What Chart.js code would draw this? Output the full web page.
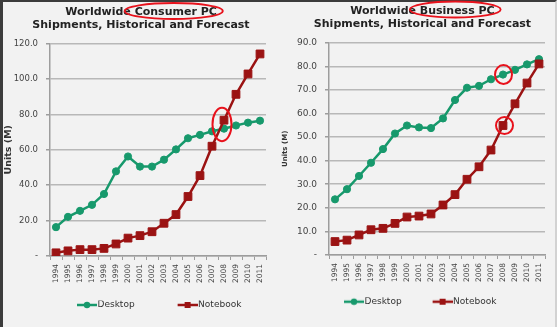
<!DOCTYPE html>
<html>
<head>
<meta charset="utf-8">
<script src="https://cdn.jsdelivr.net/npm/chart.js@4"></script>
<style>
    html, body { margin: 0; padding: 0; }
    body { width: 557px; height: 327px; background: #f2f2f2; position: relative; overflow: hidden; }
    #frame { position: absolute; left: 0; top: 0; width: 557px; height: 327px; box-sizing: border-box;
             border-left: 3px solid #3c3c3c; border-top: 2px solid #3c3c3c; border-right: 2px solid #d2d2d2; }
    .box { position: absolute; top: 0; }
    #left { left: 0; }
    #right { left: 277px; }
</style>
</head>
<body>
<div id="frame"></div>
<div class="box" id="left"><canvas id="consumer" width="277" height="327"></canvas></div>
<div class="box" id="right"><canvas id="business" width="280" height="327"></canvas></div>
<script>

const years = ['1994', '1995', '1996', '1997', '1998', '1999', '2000', '2001', '2002',
               '2003', '2004', '2005', '2006', '2007', '2008', '2009', '2010', '2011'];

const consumerDesktop  = [16.3, 22.1, 25.5, 28.9, 35.0, 47.8, 56.2, 50.5, 50.5,
                          54.4, 60.2, 66.5, 68.4, 70.4, 71.9, 73.7, 75.3, 76.4];
const consumerNotebook = [1.8, 2.9, 3.6, 3.6, 4.3, 6.8, 10.1, 11.5, 13.7,
                          18.5, 23.4, 33.6, 45.4, 62.0, 76.7, 91.3, 102.8, 114.1];

const businessDesktop  = [23.6, 27.9, 33.5, 39.1, 44.9, 51.5, 54.9, 54.1, 53.8,
                          57.9, 65.7, 70.9, 71.7, 74.5, 76.5, 78.5, 80.8, 83.0];
const businessNotebook = [5.7, 6.3, 8.5, 10.7, 11.3, 13.4, 16.1, 16.5, 17.4,
                          21.2, 25.6, 32.1, 37.4, 44.5, 54.9, 64.1, 72.9, 81.0];

const seriesNames = ['Desktop', 'Notebook'];
const unitsLabel = 'Units (M)';

const green = '#17996c';
const red = '#9b1313';
const axisGrey = '#9d9d9d';
const gridGrey = '#b8b8b8';
const ringRed = '#e8121c';

Chart.defaults.font.family = '"DejaVu Sans", Verdana, sans-serif';
Chart.defaults.color = '#333';
Chart.defaults.animation = false;

function legendIcon(color, style, w)
{
    const c = document.createElement('canvas');
    c.width = w;
    c.height = 10;
    const g = c.getContext('2d');
    g.strokeStyle = color;
    g.fillStyle = color;
    g.lineWidth = 2.5;
    g.beginPath();
    g.moveTo(w - 20, 5);
    g.lineTo(w, 5);
    g.stroke();
    if (style === 'circle')
    {
        g.beginPath();
        g.arc(w - 10, 5, 3.2, 0, Math.PI * 2);
        g.fill();
    }
    else
    {
        g.fillRect(w - 13, 2, 6, 6);
    }
    return c;
}

// moves title and legend to where they sit in the picture
const placeBlocks =
{
    id: 'placeBlocks',
    afterLayout(chart, args, opts)
    {
        const tb = chart.titleBlock;
        const dt = opts.titleX - (tb.left + tb.right) / 2;
        tb.left += dt;
        tb.right += dt;

        const lg = chart.legend;
        const bw = chart.options.plugins.legend.labels.pointStyleWidth;
        const x0 = (lg.left + lg.right - lg.lineWidths[0]) / 2;
        const dl = opts.markerX - (x0 + bw - 16);
        lg.left += dl;
        lg.right += dl;
    }
};

// red hand-drawn style rings from the slide
const rings =
{
    id: 'rings',
    afterDraw(chart, args, opts)
    {
        const ctx = chart.ctx;
        ctx.save();
        ctx.strokeStyle = ringRed;
        ctx.lineWidth = 1.8;

        const tOpts = chart.options.plugins.title;
        const font = Chart.helpers.toFont(tOpts.font);
        ctx.font = font.string;
        const line = tOpts.text[0];
        const full = ctx.measureText(line).width;
        const pre = ctx.measureText(line.slice(0, line.indexOf(opts.word))).width;
        const ww = ctx.measureText(opts.word).width;
        const tb = chart.titleBlock;
        const cx = (tb.left + tb.right) / 2 - full / 2 + pre + ww / 2 - 2;
        const cy = tb.top + tOpts.padding.top + font.lineHeight / 2 - 1.5;
        ctx.beginPath();
        ctx.ellipse(cx, cy, ww / 2 + 8, 8, 0, 0, Math.PI * 2);
        ctx.stroke();

        ctx.lineWidth = 2;
        opts.points.forEach(p =>
        {
            const els = p.datasets.map(d => chart.getDatasetMeta(d).data[p.index]);
            const ys = els.map(e => e.y);
            const lo = Math.min(...ys), hi = Math.max(...ys);
            ctx.beginPath();
            ctx.ellipse(els[0].x + p.dx, (lo + hi) / 2, p.rx, (hi - lo) / 2 + p.pad, 0, 0, Math.PI * 2);
            ctx.stroke();
        });
        ctx.restore();
    }
};

function makeChart(id, o)
{
    const icons = [legendIcon(green, 'circle', o.boxW + 8), legendIcon(red, 'rect', o.boxW + 8)];

    return new Chart(document.getElementById(id),
    {
        type: 'line',
        data:
        {
            labels: years,
            datasets: [
            {
                label: seriesNames[0],
                data: o.desktop,
                borderColor: green,
                backgroundColor: green,
                borderWidth: 2.5,
                pointStyle: 'circle',
                pointRadius: 3.6,
                pointBorderWidth: 1,
                order: 1
            },
            {
                label: seriesNames[1],
                data: o.notebook,
                borderColor: red,
                backgroundColor: red,
                borderWidth: 2.5,
                pointStyle: 'rect',
                pointRadius: 5.5,
                pointBorderWidth: 1,
                order: 0
            }]
        },
        options:
        {
            responsive: false,
            layout: { padding: { left: 0, right: o.padRight, top: 0, bottom: o.padBottom } },
            plugins:
            {
                tooltip: { enabled: false },
                title:
                {
                    display: true,
                    text: o.title,
                    color: '#222',
                    font: { size: 11, weight: 'bold', lineHeight: '13px' },
                    padding: { top: o.titleTop, bottom: o.titleBottom }
                },
                legend:
                {
                    position: 'bottom',
                    labels:
                    {
                        usePointStyle: true,
                        pointStyleWidth: o.boxW,
                        padding: 0,
                        color: '#333',
                        font: { size: 9 },
                        sort: (a, b) => a.datasetIndex - b.datasetIndex,
                        generateLabels: chart =>
                            Chart.defaults.plugins.legend.labels.generateLabels(chart).map(item =>
                            {
                                item.pointStyle = icons[item.datasetIndex];
                                return item;
                            })
                    }
                },
                placeBlocks: { titleX: o.titleX, markerX: o.markerX },
                rings: { word: o.word, points: o.points }
            },
            scales:
            {
                x:
                {
                    offset: true,
                    grid: { offset: true, drawOnChartArea: false, tickLength: 4, color: axisGrey },
                    border: { color: axisGrey, width: 1.5 },
                    ticks: { minRotation: 90, maxRotation: 90, autoSkip: false, padding: 4, color: '#444', font: { size: 7.5 } },
                    afterFit: s => { s.height = o.xHeight; }
                },
                y:
                {
                    min: 0,
                    max: o.max,
                    ticks:
                    {
                        stepSize: o.step,
                        padding: 8,
                        color: '#444',
                        font: { size: o.tickSize },
                        callback: v => v === 0 ? '-' : v.toFixed(1)
                    },
                    grid: { color: gridGrey, lineWidth: 1.5, tickLength: 4, tickColor: axisGrey },
                    border: { color: axisGrey, width: 1.5 },
                    title:
                    {
                        display: true,
                        text: unitsLabel,
                        color: '#333',
                        font: { size: o.unitSize, weight: 'bold' },
                        padding: { top: o.unitPad, bottom: 0 }
                    },
                    afterFit: s => { s.width = o.yWidth; }
                }
            }
        },
        plugins: [placeBlocks, rings]
    });
}

window.addEventListener('load', function()
{
    makeChart('consumer',
    {
        title: ['Worldwide Consumer PC', 'Shipments, Historical and Forecast'],
        word: 'Consumer PC',
        desktop: consumerDesktop,
        notebook: consumerNotebook,
        max: 120, step: 20, tickSize: 8.5,
        padRight: 11, padBottom: 7.5,
        titleTop: 6, titleBottom: 11.5, titleX: 141,
        xHeight: 44.5, yWidth: 50,
        unitSize: 9.5, unitPad: 2.8,
        boxW: 59, markerX: 77,
        points: [{ datasets: [0, 1], index: 14, dx: -2, rx: 9.5, pad: 12.5 }]
    });

    makeChart('business',
    {
        title: ['Worldwide Business PC', 'Shipments, Historical and Forecast'],
        word: 'Business PC',
        desktop: businessDesktop,
        notebook: businessNotebook,
        max: 90, step: 10, tickSize: 9,
        padRight: 12, padBottom: 10.8,
        titleTop: 4.5, titleBottom: 12.2, titleX: 145.5,
        xHeight: 42.2, yWidth: 52,
        unitSize: 7, unitPad: 4.3,
        boxW: 47, markerX: 67,
        points: [{ datasets: [0], index: 14, dx: 0.5, rx: 8.5, pad: 9.5 },
                 { datasets: [1], index: 14, dx: 1.5, rx: 8.5, pad: 8.5 }]
    });
});
</script>
</body>
</html>
